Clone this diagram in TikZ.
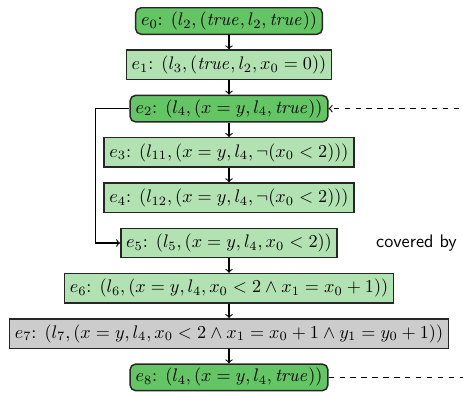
\documentclass[tikz,border=0pt]{standalone}
\usetikzlibrary{positioning}

\definecolor{reachgreen}{RGB}{100,197,100}
\definecolor{pathgreen}{RGB}{178,226,178}
\definecolor{pathgray}{RGB}{204,204,204}

\begin{document}
\begin{tikzpicture}[
  x=0.55pt, y=0.55pt,
  node distance=7.9pt,
  ev/.style={draw=black!85, line width=0.8pt, inner xsep=3pt},
  loc/.style={ev, fill=reachgreen, rounded corners=3pt, inner ysep=2.2pt, minimum height=14.6pt},
  pth/.style={ev, fill=pathgreen, inner ysep=3pt, minimum height=16.2pt},
  cut/.style={ev, fill=pathgray, inner ysep=3pt, minimum height=16.2pt},
  arr/.style={->, line width=0.6pt},
  cov/.style={arr, dashed},
]
\clip (-229,21) rectangle (234,-371);

% the abstract reachability tree, unrolled
\node[loc] (e0) at (0,0) {$e_0$: $(l_2, (\mathit{true}, l_2, \mathit{true}))$};
\node[pth, below=of e0] (e1) {$e_1$: $(l_3, (\mathit{true}, l_2, x_0 = 0))$};
\node[loc, below=of e1] (e2) {$e_2$: $(l_4, (x = y, l_4, \mathit{true}))$};
\node[pth, below=of e2] (e3) {$e_3$: $(l_{11}, (x = y, l_4, \neg(x_0 < 2)))$};
\node[pth, below=of e3] (e4) {$e_4$: $(l_{12}, (x = y, l_4, \neg(x_0 < 2)))$};
\node[pth, below=of e4] (e5) {$e_5$: $(l_5, (x = y, l_4, x_0 < 2))$};
\node[pth, below=of e5] (e6) {$e_6$: $(l_6, (x = y, l_4, x_0 < 2 \wedge x_1 = x_0 + 1))$};
\node[cut, below=of e6] (e7) {$e_7$: $(l_7, (x = y, l_4, x_0 < 2 \wedge x_1 = x_0 + 1 \wedge y_1 = y_0 + 1))$};
\node[loc, below=of e7] (e8) {$e_8$: $(l_4, (x = y, l_4, \mathit{true}))$};

\draw[arr] (e0) -- (e1);
\draw[arr] (e1) -- (e2);
\draw[arr] (e2) -- (e3);
\draw[arr] (e3) -- (e4);
\draw[arr] (e5) -- (e6);
\draw[arr] (e6) -- (e7);
\draw[arr] (e7) -- (e8);

% the other branch of the loop head
\coordinate[left=4.4pt of e3.west] (bend);
\draw[arr] (e2.west) -| (bend) |- (e5.west);

% e8 is covered by e2
\coordinate[right=100pt of e8.east] (back);
\draw[cov] (e8.east) -- (back) |- (e2.east);
\node[font=\sffamily, right=17.5pt of e5.east] (lbl) {covered by};

\end{tikzpicture}
\end{document}
